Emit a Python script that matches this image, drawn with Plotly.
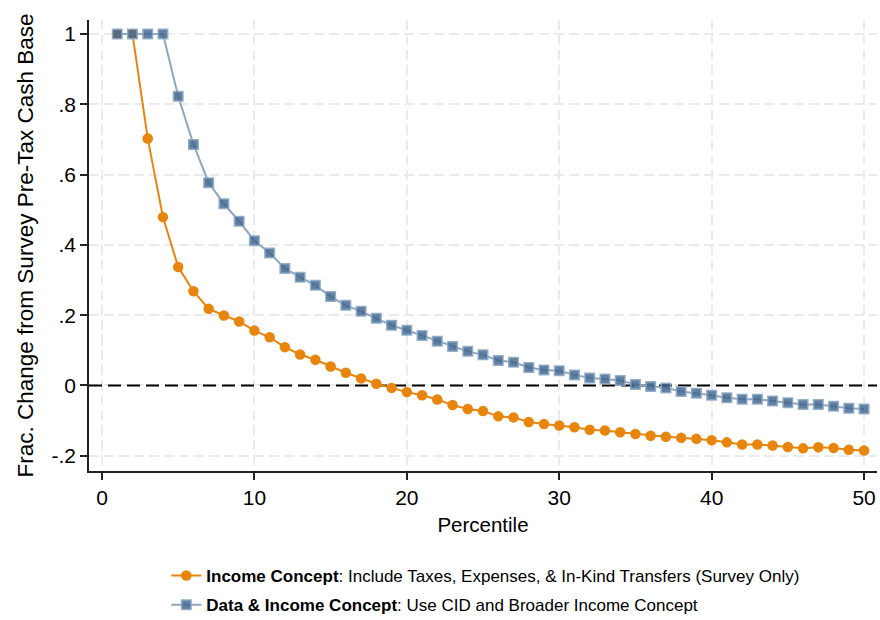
import plotly.graph_objects as go

percentile = list(range(1, 51))

income_concept = [1.0, 1.0, 0.703, 0.479, 0.337, 0.268, 0.218, 0.199, 0.182, 0.156,
                  0.137, 0.109, 0.088, 0.073, 0.054, 0.036, 0.020, 0.005, -0.007, -0.019,
                  -0.028, -0.040, -0.056, -0.067, -0.073, -0.088, -0.091, -0.104, -0.110, -0.114,
                  -0.119, -0.126, -0.128, -0.133, -0.138, -0.143, -0.146, -0.149, -0.152, -0.156,
                  -0.162, -0.168, -0.168, -0.171, -0.175, -0.179, -0.176, -0.178, -0.183, -0.185]

data_income_concept = [1.0, 1.0, 1.0, 1.0, 0.823, 0.686, 0.577, 0.517, 0.467, 0.412,
                       0.377, 0.333, 0.308, 0.285, 0.253, 0.228, 0.211, 0.191, 0.171, 0.157,
                       0.142, 0.126, 0.111, 0.097, 0.087, 0.071, 0.066, 0.051, 0.044, 0.042,
                       0.030, 0.021, 0.018, 0.014, 0.003, -0.003, -0.007, -0.017, -0.022, -0.028,
                       -0.035, -0.039, -0.039, -0.044, -0.049, -0.054, -0.054, -0.059, -0.065, -0.067]

y_tickvals = [-0.2, 0, 0.2, 0.4, 0.6, 0.8, 1]
y_ticktext = ["-.2", "0", ".2", ".4", ".6", ".8", "1"]
x_tickvals = [0, 10, 20, 30, 40, 50]
reference_y = 0

X_RANGE = [-0.853, 50.85]
Y_RANGE = [-0.2435, 1.04]

name_a = "<b>Income Concept</b>: Include Taxes, Expenses, & In-Kind Transfers (Survey Only)"
name_b = "<b>Data & Income Concept</b>: Use CID and Broader Income Concept"

FONT = "Liberation Sans, Arial, Helvetica, sans-serif"

fig = go.Figure()
fig.add_trace(go.Scatter(
    x=percentile, y=income_concept, mode="lines+markers", name=name_a, legendgroup="a",
    line=dict(color="#E8850C", width=2),
    marker=dict(symbol="circle", size=10.5, color="#E8850C", line=dict(width=0)),
))
fig.add_trace(go.Scatter(
    x=percentile, y=data_income_concept, mode="lines+markers", name=name_b, legendgroup="b",
    line=dict(color="#8FA6BD", width=2),
    marker=dict(symbol="square", size=9.5, color="rgba(62,100,140,0.82)",
                line=dict(width=1.5, color="rgba(140,170,200,0.9)")),
))

fig.add_shape(type="line", xref="x", yref="y", x0=X_RANGE[0], x1=X_RANGE[1],
              y0=reference_y, y1=reference_y,
              line=dict(color="black", width=2, dash="13px,6px"), layer="between")

fig.update_layout(
    width=880, height=620,
    margin=dict(l=89, r=3, t=20, b=149),
    paper_bgcolor="white", plot_bgcolor="white",
    font=dict(family=FONT, color="black"),
    showlegend=True,
    legend=dict(orientation="v", x=0.0981, xanchor="left",
                yref="container", y=1 - 558 / 620, yanchor="top",
                font=dict(size=17, family=FONT), traceorder="grouped", tracegroupgap=4,
                bgcolor="rgba(0,0,0,0)"),
)
fig.update_xaxes(
    range=X_RANGE, tickvals=x_tickvals,
    showline=True, linecolor="#222", linewidth=1.5, mirror=False,
    ticks="outside", ticklen=7, tickwidth=1.5, tickcolor="#222",
    tickfont=dict(size=21, family=FONT),
    showgrid=True, gridcolor="#ebebeb", gridwidth=1.8, griddash="10px,5px",
    zeroline=False,
    title=dict(text="Percentile", font=dict(size=20.5, family=FONT), standoff=10),
)
fig.update_yaxes(
    range=Y_RANGE, tickvals=y_tickvals, ticktext=y_ticktext,
    showline=True, linecolor="#222", linewidth=1.5, mirror=False,
    ticks="outside", ticklen=7, tickwidth=1.5, tickcolor="#222",
    tickfont=dict(size=21, family=FONT),
    showgrid=True, gridcolor="#ebebeb", gridwidth=1.8, griddash="10px,5px",
    zeroline=False,
    title=dict(text="Frac. Change from Survey Pre-Tax Cash Base", font=dict(size=22.5, family=FONT), standoff=12),
)

fig.write_html("out.html")
